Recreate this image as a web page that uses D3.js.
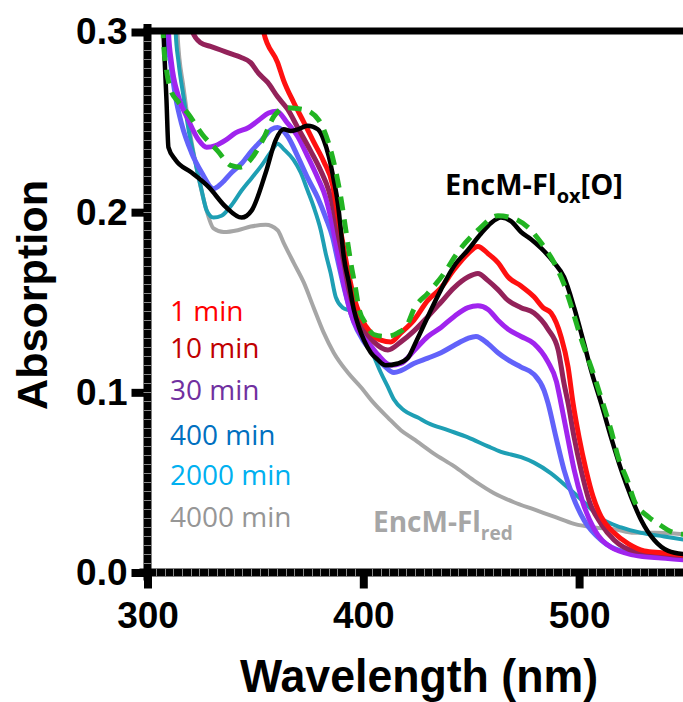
<!DOCTYPE html>
<html>
<head>
<meta charset="utf-8">
<script src="https://cdn.jsdelivr.net/npm/d3@7"></script>
<style>
  body { margin: 0; background: #fff; }
  svg { display: block; }
</style>
</head>
<body>
<svg id="chart" width="683" height="702"></svg>
<script>
// tick values
const xTicks = [300, 400, 500];
const yTicks = [0.0, 0.1, 0.2, 0.3];

// legend (time after mixing)
const legendLabels = ["1 min", "10 min", "30 min", "400 min", "2000 min", "4000 min"];
const legendColors = ["#ff0000", "#c00000", "#7030a0", "#0070c0", "#00b0f0", "#969696"];

// spectra, [wavelength nm, absorption]
const flOx = [[306.8,0.33],[307.4,0.295],[308.8,0.279],[310.7,0.268],[314.4,0.261],[318.6,0.255],[325.5,0.243],[332.5,0.234],[338.5,0.226],[343.2,0.225],[346.9,0.228],[353.4,0.240],[358.5,0.253],[364.0,0.258],[372.4,0.257],[379.4,0.251],[384.0,0.238],[387.2,0.223],[389.6,0.208],[391.9,0.190],[394.2,0.172],[396.5,0.157],[397.9,0.147],[401.2,0.138],[404.9,0.132],[410.4,0.131],[416.0,0.133],[420.6,0.138],[423.4,0.146],[429.9,0.155],[437.4,0.166],[443.9,0.178],[453.1,0.190],[462.4,0.198],[468.4,0.197],[477.7,0.190],[482.4,0.183],[488.4,0.172],[493.0,0.160],[496.3,0.148],[500.9,0.130],[507.0,0.109],[510.2,0.097],[514.8,0.079],[518.1,0.064],[522.7,0.050],[525.5,0.040],[532.0,0.031],[536.7,0.027],[544.1,0.022],[550,0.021]];

const flOxO = [[306.5,0.33],[307.4,0.300],[308.8,0.262],[309.7,0.236],[313.0,0.229],[320.4,0.222],[328.3,0.214],[336.2,0.203],[343.6,0.197],[348.3,0.201],[354.8,0.222],[359.4,0.240],[363.1,0.246],[366.4,0.245],[369.7,0.246],[374.2,0.248],[378.9,0.246],[381.7,0.240],[384.0,0.231],[386.3,0.218],[388.2,0.205],[389.6,0.190],[391.0,0.175],[393.3,0.161],[395.6,0.146],[398.0,0.136],[400.3,0.129],[403.5,0.122],[406.8,0.118],[410.4,0.115],[416.0,0.116],[420.6,0.119],[424.4,0.128],[429.9,0.142],[436.0,0.157],[442.0,0.170],[448.5,0.179],[454.5,0.188],[459.2,0.194],[463.8,0.197],[468.4,0.195],[473.1,0.189],[477.7,0.185],[482.4,0.180],[488.4,0.172],[493.0,0.164],[497.7,0.147],[502.3,0.127],[505.6,0.112],[510.2,0.094],[514.8,0.075],[519.5,0.057],[524.1,0.042],[528.8,0.029],[534.8,0.018],[541.3,0.012],[550,0.010]];

const min1 = [[353.3,0.33],[353.8,0.300],[360.3,0.283],[363.1,0.273],[367.7,0.261],[372.4,0.250],[377.0,0.239],[381.7,0.228],[385.8,0.215],[388.2,0.198],[390.5,0.183],[392.8,0.168],[395.6,0.153],[398.8,0.142],[403.5,0.133],[408.1,0.129],[412.8,0.128],[417.4,0.133],[423.4,0.140],[429.9,0.151],[436.0,0.158],[442.0,0.168],[448.5,0.177],[453.1,0.181],[457.8,0.177],[462.4,0.172],[467.1,0.164],[473.1,0.159],[479.1,0.153],[483.3,0.147],[487.0,0.144],[491.6,0.131],[494.9,0.114],[497.2,0.094],[500.0,0.075],[503.2,0.057],[506.5,0.042],[510.2,0.031],[516.2,0.022],[522.7,0.016],[530.2,0.012],[538.1,0.011],[550,0.0095]];

const min10 = [[319.5,0.31],[320.9,0.300],[324.6,0.294],[329.2,0.292],[333.9,0.290],[338.5,0.288],[343.2,0.286],[347.8,0.283],[351.5,0.277],[355.7,0.272],[360.3,0.264],[365.0,0.257],[369.6,0.247],[375.6,0.234],[380.3,0.223],[384.0,0.212],[386.3,0.201],[388.6,0.186],[391.0,0.172],[393.3,0.157],[396.5,0.144],[400.2,0.135],[404.9,0.128],[411.4,0.1235],[417.4,0.128],[423.4,0.134],[429.9,0.142],[436.0,0.150],[442.0,0.158],[448.5,0.164],[453.1,0.166],[457.8,0.162],[462.4,0.157],[467.1,0.151],[473.1,0.147],[479.1,0.144],[485.6,0.135],[490.3,0.1235],[493.0,0.105],[494.9,0.094],[497.7,0.075],[500.9,0.057],[504.6,0.040],[510.2,0.027],[516.2,0.018],[525.5,0.012],[534.8,0.011],[550,0.009]];

const min30 = [[309.2,0.33],[309.7,0.301],[311.1,0.283],[314.4,0.264],[319.0,0.251],[323.7,0.240],[327.4,0.236],[331.6,0.237],[336.2,0.240],[340.8,0.244],[346.9,0.247],[351.5,0.251],[356.1,0.255],[359.9,0.256],[364.5,0.250],[369.6,0.242],[374.2,0.231],[378.9,0.219],[382.6,0.208],[384.9,0.197],[387.2,0.183],[389.6,0.168],[391.9,0.155],[394.2,0.144],[397.4,0.135],[402.1,0.128],[406.7,0.121],[412.8,0.115],[417.4,0.116],[423.4,0.123],[429.9,0.131],[436.0,0.136],[442.0,0.142],[448.5,0.147],[453.1,0.148],[457.8,0.146],[462.4,0.140],[467.1,0.135],[473.1,0.131],[479.1,0.127],[485.5,0.117],[489.5,0.106],[491.6,0.094],[494.7,0.075],[497.7,0.057],[501.7,0.039],[507.0,0.024],[514.8,0.014],[525.5,0.0097],[538.1,0.008],[550,0.007]];

const min400 = [[308.3,0.33],[308.8,0.301],[310.7,0.283],[313.0,0.264],[315.8,0.249],[320.4,0.233],[325.1,0.222],[330.6,0.213],[334.3,0.216],[339.0,0.222],[343.6,0.227],[348.3,0.234],[352.9,0.240],[357.5,0.246],[360.3,0.247],[365.0,0.242],[369.6,0.231],[374.2,0.219],[378.9,0.208],[382.6,0.197],[385.8,0.186],[388.2,0.173],[390.5,0.161],[392.8,0.150],[395.6,0.139],[399.8,0.129],[404.4,0.122],[409.5,0.115],[414.2,0.111],[417.4,0.112],[423.4,0.116],[429.9,0.119],[436.0,0.122],[442.0,0.126],[448.5,0.130],[452.2,0.131],[457.8,0.127],[462.4,0.122],[467.1,0.118],[473.1,0.114],[479.1,0.110],[483.8,0.101],[485.6,0.094],[489.3,0.075],[493.0,0.057],[497.2,0.042],[502.3,0.029],[510.2,0.018],[519.5,0.012],[532.0,0.010],[550,0.0085]];

const min2000 = [[312.6,0.33],[313.0,0.301],[314.4,0.283],[316.7,0.264],[319.0,0.246],[322.3,0.227],[325.1,0.212],[327.4,0.201],[330.6,0.197],[334.3,0.198],[339.0,0.204],[343.6,0.212],[348.3,0.219],[352.9,0.226],[357.5,0.234],[360.3,0.238],[363.1,0.235],[367.7,0.229],[371.0,0.222],[374.2,0.212],[377.0,0.203],[380.3,0.190],[382.6,0.177],[384.9,0.166],[387.2,0.153],[390.5,0.147],[394.2,0.145],[396.5,0.141],[398.8,0.136],[402.1,0.128],[404.9,0.120],[408.1,0.111],[411.4,0.103],[414.2,0.096],[418.8,0.090],[425.3,0.086],[429.9,0.083],[439.2,0.079],[448.5,0.075],[457.8,0.070],[463.8,0.067],[473.1,0.064],[479.1,0.061],[487.0,0.055],[494.9,0.047],[502.3,0.039],[510.2,0.030],[519.5,0.025],[528.8,0.022],[539.4,0.020],[550,0.018]];

const min4000 = [[313.5,0.33],[313.9,0.299],[316.7,0.269],[320.0,0.242],[323.2,0.222],[326.9,0.203],[330.6,0.191],[335.3,0.189],[341.8,0.190],[347.8,0.192],[354.8,0.193],[360.3,0.190],[363.1,0.183],[367.7,0.172],[372.4,0.161],[377.0,0.147],[381.7,0.133],[386.3,0.122],[392.8,0.111],[398.8,0.103],[404.9,0.094],[411.4,0.086],[417.4,0.079],[423.4,0.074],[432.7,0.066],[442.0,0.059],[451.3,0.051],[460.6,0.044],[469.8,0.039],[479.1,0.035],[488.4,0.031],[497.7,0.027],[507.0,0.025],[516.2,0.024],[525.5,0.022],[534.8,0.022],[550,0.021]];

// drawing order: back to front
const series = [
  { id: "min4000", values: min4000, color: "#a6a6a6", width: 4 },
  { id: "min2000", values: min2000, color: "#1e9fb4", width: 4 },
  { id: "min400",  values: min400,  color: "#6262fa", width: 5 },
  { id: "min30",   values: min30,   color: "#a024ee", width: 5 },
  { id: "min10",   values: min10,   color: "#93225a", width: 5 },
  { id: "min1",    values: min1,    color: "#ff1010", width: 5 },
  { id: "flOxO",   values: flOxO,   color: "#000000", width: 4.5 },
  { id: "flOx",    values: flOx,    color: "#22b422", width: 5, dash: "14,9" }
];

const width = 683, height = 702;
const margin = { top: 32, left: 147.5, bottom: 129.5 };
const axisFont = "'Liberation Sans', Arial, sans-serif";
const labelFont = "'Open Sans', sans-serif";

const x = d3.scaleLinear().domain([300, 550]).range([margin.left, 687]);
const y = d3.scaleLinear().domain([0, 0.3]).range([height - margin.bottom, margin.top]);

const svg = d3.select("#chart");

svg.append("defs").append("clipPath")
    .attr("id", "plot-clip")
  .append("rect")
    .attr("x", margin.left)
    .attr("y", margin.top)
    .attr("width", width - margin.left)
    .attr("height", y(0) - margin.top);

const line = d3.line()
  .x(d => x(d[0]))
  .y(d => y(d[1]))
  .curve(d3.curveMonotoneX);

svg.append("g")
    .attr("clip-path", "url(#plot-clip)")
  .selectAll("path.spectrum")
  .data(series)
  .join("path")
    .attr("class", d => "spectrum " + d.id)
    .attr("fill", "none")
    .attr("stroke", d => d.color)
    .attr("stroke-width", d => d.width)
    .attr("stroke-dasharray", d => d.dash || null)
    .attr("stroke-linejoin", "round")
    .attr("d", d => line(d.values));

// top frame line
svg.append("line")
    .attr("x1", margin.left - 4)
    .attr("x2", width)
    .attr("y1", y(0.3) - 1)
    .attr("y2", y(0.3) - 1)
    .attr("stroke", "#000")
    .attr("stroke-width", 7);

// axes
const axisLeft = d3.axisLeft(y)
  .tickValues(yTicks)
  .tickFormat(d3.format(".1f"))
  .tickSize(16)
  .tickSizeOuter(0)
  .tickPadding(4);

const axisBottom = d3.axisBottom(x)
  .tickValues(xTicks)
  .tickFormat(d3.format("d"))
  .tickSize(16)
  .tickSizeOuter(0)
  .tickPadding(13);

const gy = svg.append("g")
    .attr("transform", `translate(${ margin.left }, 0)`)
    .call(axisLeft);

const gx = svg.append("g")
    .attr("transform", `translate(0, ${ y(0) })`)
    .call(axisBottom);

[gx, gy].forEach(g => {
  g.select(".domain")
    .attr("stroke", "#000")
    .attr("stroke-width", 8)
    .attr("stroke-linecap", "square");
  g.selectAll(".tick line")
    .attr("stroke", "#000")
    .attr("stroke-width", 8);
  g.selectAll(".tick text")
    .attr("fill", "#000")
    .attr("font-family", axisFont)
    .attr("font-weight", "bold")
    .attr("font-size", 37);
});
gx.selectAll(".domain").attr("d", `M${ margin.left - 4 },0H${ width }`);
gy.selectAll(".domain").attr("d", `M0,${ y(0.3) - 4 }V${ y(0) + 4 }`);

// minor tick marks inside the thick axis lines
svg.append("g")
  .selectAll("line")
  .data(d3.range(0.005, 0.3, 0.005))
  .join("line")
    .attr("x1", margin.left - 4)
    .attr("x2", margin.left + 4)
    .attr("y1", d => Math.round(y(d)) + 0.5)
    .attr("y2", d => Math.round(y(d)) + 0.5)
    .attr("stroke", "#8a8a8a")
    .attr("stroke-width", 1);

svg.append("g")
  .selectAll("line")
  .data(d3.range(304, 550, 4).filter(d => d % 100 !== 0))
  .join("line")
    .attr("x1", d => Math.round(x(d)) + 0.5)
    .attr("x2", d => Math.round(x(d)) + 0.5)
    .attr("y1", y(0) - 4)
    .attr("y2", y(0) + 4)
    .attr("stroke", "#8a8a8a")
    .attr("stroke-width", 1);

// axis titles
svg.append("text")
    .attr("x", 419)
    .attr("y", 692)
    .attr("text-anchor", "middle")
    .attr("font-family", axisFont)
    .attr("font-weight", "bold")
    .attr("font-size", 46)
    .attr("textLength", 358)
    .attr("lengthAdjust", "spacingAndGlyphs")
    .text("Wavelength (nm)");

svg.append("text")
    .attr("transform", "translate(47, 295) rotate(-90)")
    .attr("text-anchor", "middle")
    .attr("font-family", axisFont)
    .attr("font-weight", "bold")
    .attr("font-size", 43)
    .attr("textLength", 230)
    .attr("lengthAdjust", "spacingAndGlyphs")
    .text("Absorption");

// legend
svg.append("g")
  .selectAll("text")
  .data(legendLabels)
  .join("text")
    .attr("x", 170)
    .attr("y", (d, i) => [321, 358, 400, 445, 485, 527][i])
    .attr("fill", (d, i) => legendColors[i])
    .attr("font-family", labelFont)
    .attr("font-size", 28)
    .text(d => d);

// annotations
const oxLabel = svg.append("text")
    .attr("x", 445)
    .attr("y", 195)
    .attr("fill", "#000")
    .attr("font-family", labelFont)
    .attr("font-weight", "bold")
    .attr("font-size", 29);
oxLabel.append("tspan").text("EncM-Fl");
oxLabel.append("tspan").attr("dy", 8).attr("font-size", 20).text("ox");
oxLabel.append("tspan").attr("dy", -8).text("[O]");

const redLabel = svg.append("text")
    .attr("x", 373)
    .attr("y", 532)
    .attr("fill", "#a6a6a6")
    .attr("font-family", labelFont)
    .attr("font-weight", "bold")
    .attr("font-size", 28);
redLabel.append("tspan").text("EncM-Fl");
redLabel.append("tspan").attr("dy", 8).attr("font-size", 19).text("red");
</script>
</body>
</html>
